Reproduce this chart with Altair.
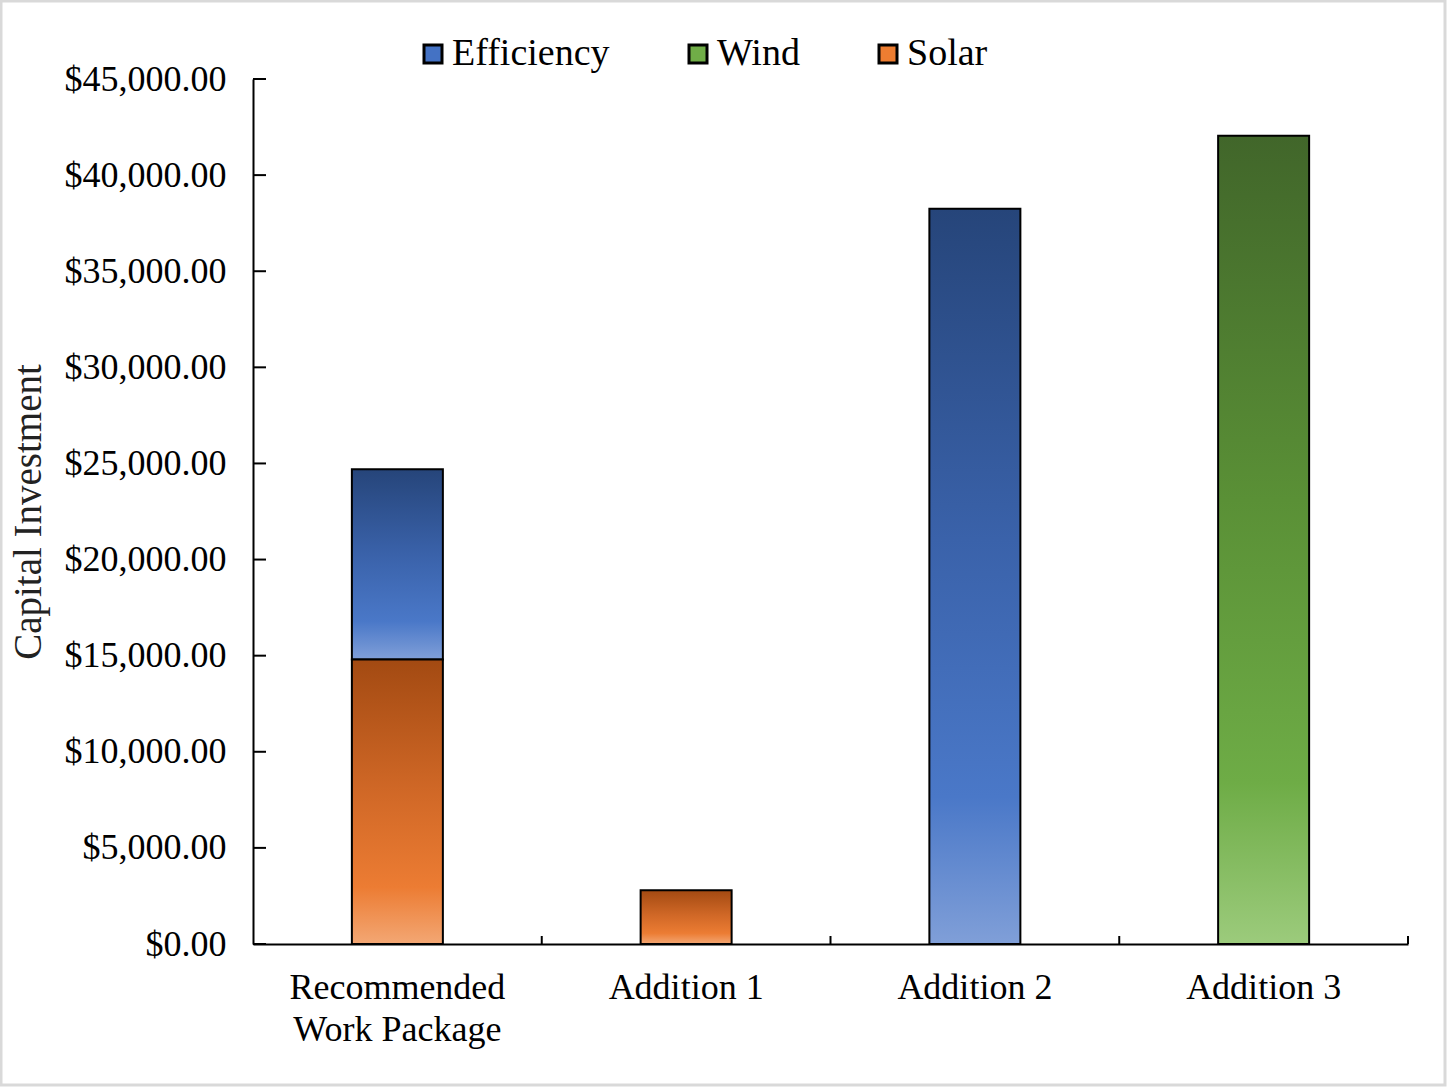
import altair as alt
import pandas as pd

# Capital investment by package and technology
categories = ["Recommended\nWork Package", "Addition 1", "Addition 2", "Addition 3"]
series = ["Efficiency", "Wind", "Solar"]
efficiency = [9900, 0, 38250, 0]
wind = [0, 0, 0, 42050]
solar = [14800, 2800, 0, 0]
y_ticks = [0, 5000, 10000, 15000, 20000, 25000, 30000, 35000, 40000, 45000]

legend_colors = ["#4472C4", "#70AD47", "#ED7D31"]
gradient_stops = {
    "Efficiency": [("#26457A", 0), ("#3A62AA", 0.45), ("#4A78C8", 0.8), ("#809FD8", 1)],
    "Wind": [("#41662A", 0), ("#5A9036", 0.45), ("#6EAC46", 0.8), ("#9CCB7C", 1)],
    "Solar": [("#A34A12", 0), ("#CF6726", 0.45), ("#EC7C33", 0.8), ("#F3A774", 1)],
}
stack_rank = {"Solar": 0, "Efficiency": 1, "Wind": 2}

rows = []
for name, vals in zip(series, [efficiency, wind, solar]):
    for cat, v in zip(categories, vals):
        if v > 0:
            rows.append({"category": cat, "series": name, "value": v, "rank": stack_rank[name]})
df = pd.DataFrame(rows)

W, H = 1155, 865
FONT = "Liberation Serif"

x_scale = alt.Scale(domain=categories, paddingInner=0, paddingOuter=0)
y_scale = alt.Scale(domain=[0, 45000], nice=False)

x_axis = alt.Axis(
    title=None, ticks=False, tickSize=0, labelPadding=26, labelAngle=0,
    labelExpr="split(datum.label, '\\n')", labelLineHeight=42, labelLimit=0,
    domainColor="black", domainWidth=2, grid=False,
)
y_axis = alt.Axis(
    values=y_ticks, format="$,.2f", ticks=False, tickSize=0, labelPadding=27,
    labelLimit=0, domainColor="black", domainWidth=2, grid=False,
    title="Capital Investment", titlePadding=16, titleFontWeight="normal",
)

base = alt.Chart(df).transform_stack(
    stack="value", groupby=["category"], as_=["y0", "y1"],
    sort=[alt.SortField("rank", order="ascending")],
)


def gradient(name):
    return alt.Gradient(
        gradient="linear", x1=0, x2=0, y1=0, y2=1,
        stops=[alt.GradientStop(color=c, offset=o) for c, o in gradient_stops[name]],
    )


bars = []
for name in series:
    bars.append(
        base.transform_filter(alt.datum.series == name)
        .mark_bar(size=91, fill=gradient(name), stroke="black", strokeWidth=2)
        .encode(
            x=alt.X("category:N", scale=x_scale, axis=x_axis),
            y=alt.Y("y1:Q", scale=y_scale, axis=y_axis),
            y2="y0:Q",
        )
    )

# inward ticks on the value axis
y_tick_rules = alt.Chart(pd.DataFrame({"tick": y_ticks})).mark_rule(
    color="black", strokeWidth=2
).encode(
    y=alt.Y("tick:Q", scale=y_scale, axis=y_axis),
    x=alt.value(0), x2=alt.value(13),
)

# inward ticks between categories
x_tick_rules = alt.Chart(pd.DataFrame({"category": categories})).mark_rule(
    color="black", strokeWidth=2
).encode(
    x=alt.X("category:N", scale=x_scale, axis=x_axis, bandPosition=1),
    y=alt.value(H - 8), y2=alt.value(H),
)

# legend swatches
legend_layer = alt.Chart(df).transform_filter("false").mark_square(opacity=1).encode(
    color=alt.Color(
        "series:N",
        scale=alt.Scale(domain=series, range=legend_colors),
        legend=alt.Legend(
            orient="none", legendX=161, legendY=-44, direction="horizontal",
            title=None, symbolType="square", symbolSize=324,
            symbolStrokeColor="black", symbolStrokeWidth=3, symbolOpacity=1,
            labelFont=FONT, labelFontSize=38, labelColor="black",
            labelOffset=0, columnPadding=69, labelLimit=0,
        ),
    )
)

frame = alt.Chart(pd.DataFrame({"k": [0]})).mark_rect(
    fillOpacity=0, stroke="#D9D9D9", strokeWidth=3
).encode(
    x=alt.value(-252), x2=alt.value(1445 - 253),
    y=alt.value(-78), y2=alt.value(1085 - 79),
)

chart = alt.layer(frame, *bars, y_tick_rules, x_tick_rules, legend_layer).properties(
    width=W, height=H,
    autosize=alt.AutoSizeParams(type="none"),
    padding={"left": 253, "top": 79, "right": 40, "bottom": 143},
    background="white",
).configure_view(stroke=None).configure_axis(
    labelFont=FONT, labelFontSize=36, labelColor="black",
    titleFont=FONT, titleFontSize=39, titleColor="#222222",
)

chart.save("out.html", embed_options={"renderer": "svg", "actions": False})
